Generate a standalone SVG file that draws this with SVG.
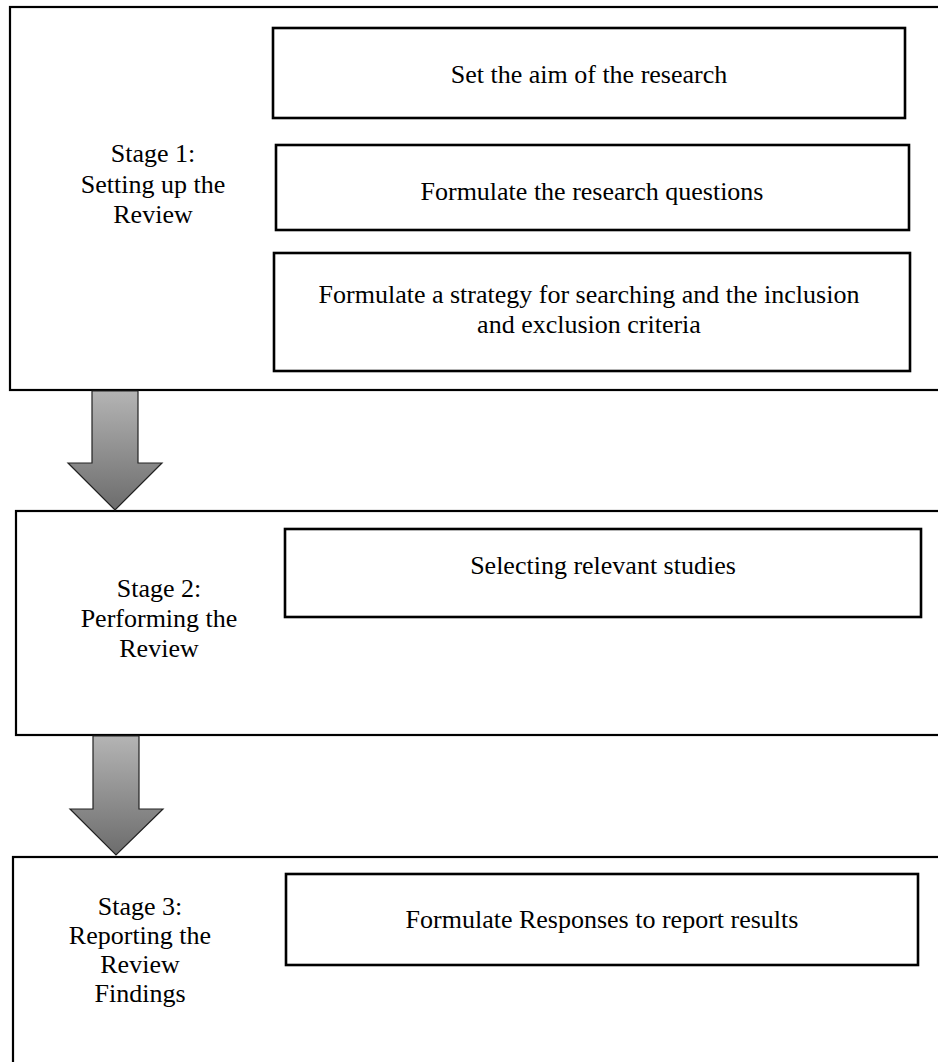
<svg xmlns="http://www.w3.org/2000/svg" width="938" height="1062" viewBox="0 0 938 1062">
<style>
.outer{fill:none;stroke:#000;stroke-width:2.2}
.inner{fill:#fff;stroke:#000;stroke-width:2.6}
.t{font-family:"Liberation Serif","Times New Roman",serif;font-size:26px;fill:#000;text-anchor:middle}
.arrow{fill:url(#g);stroke:#222;stroke-width:1.2}
</style>
<defs>
<linearGradient id="g" x1="0" y1="0" x2="0" y2="1">
<stop offset="0" stop-color="#b4b4b4"/>
<stop offset="1" stop-color="#6c6c6c"/>
</linearGradient>
</defs>
<rect width="938" height="1062" fill="#fff"/>
<g id="stage1">
<rect class="outer" x="10" y="7" width="960" height="383"/>
<text class="t" x="153" y="162">Stage 1:</text>
<text class="t" x="153" y="193">Setting up the</text>
<text class="t" x="153" y="223">Review</text>
</g>
<g id="aim">
<rect class="inner" x="273" y="28" width="632" height="90"/>
<text class="t" x="589" y="83">Set the aim of the research</text>
</g>
<g id="questions">
<rect class="inner" x="276" y="145" width="633" height="85"/>
<text class="t" x="592" y="200">Formulate the research questions</text>
</g>
<g id="strategy">
<rect class="inner" x="274" y="253" width="636" height="118"/>
<text class="t" x="589" y="303">Formulate a strategy for searching and the inclusion</text>
<text class="t" x="589" y="333">and exclusion criteria</text>
</g>
<g id="stage2">
<rect class="outer" x="16" y="511" width="960" height="224"/>
<text class="t" x="159" y="597">Stage 2:</text>
<text class="t" x="159" y="627">Performing the</text>
<text class="t" x="159" y="657">Review</text>
</g>
<g id="selecting">
<rect class="inner" x="285" y="529" width="636" height="88"/>
<text class="t" x="603" y="574">Selecting relevant studies</text>
</g>
<g id="stage3">
<rect class="outer" x="13" y="857" width="960" height="260"/>
<text class="t" x="140" y="915">Stage 3:</text>
<text class="t" x="140" y="944">Reporting the</text>
<text class="t" x="140" y="973">Review</text>
<text class="t" x="140" y="1002">Findings</text>
</g>
<g id="responses">
<rect class="inner" x="286" y="874" width="632" height="91"/>
<text class="t" x="602" y="928">Formulate Responses to report results</text>
</g>
<g id="connectors">
<polygon class="arrow" points="92,391 138,391 138,463 162,463 115,510 68,463 92,463"/>
<polygon class="arrow" points="93,736 139,736 139,809 163,809 116,855 70,809 93,809"/>
</g>
</svg>
